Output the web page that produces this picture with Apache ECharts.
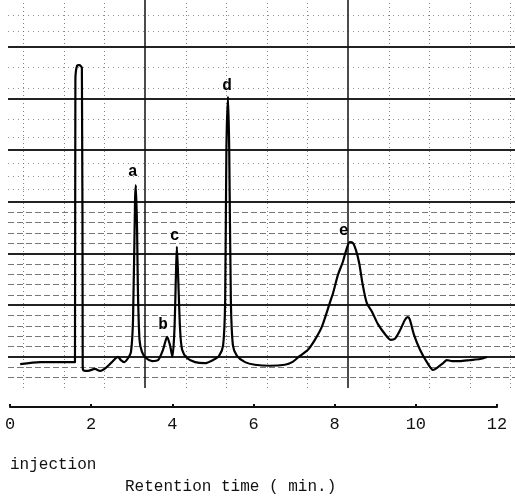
<!DOCTYPE html>
<html><head><meta charset="utf-8">
<script src="https://cdn.jsdelivr.net/npm/echarts@6/dist/echarts.min.js"></script>
<style>html,body{margin:0;padding:0;background:#fff}#c{width:515px;height:500px}</style>
</head><body><div id="c"></div>
<script>
// Retention time (min) and detector response (chart-paper divisions)
const traceTime = [0.25,0.74,1.55,1.60,1.61,1.65,1.71,1.77,1.79,1.80,1.92,2.09,2.22,2.36,2.51,2.66,2.73,2.81,2.91,2.98,3.03,3.08,3.10,3.13,3.15,3.19,3.25,3.35,3.50,3.65,3.77,3.87,3.94,4.00,4.05,4.09,4.11,4.14,4.19,4.24,4.36,4.56,4.80,5.00,5.15,5.25,5.30,5.33,5.37,5.40,5.44,5.49,5.59,5.79,6.03,6.40,6.77,6.95,7.14,7.34,7.51,7.68,7.88,7.96,8.08,8.20,8.30,8.37,8.45,8.52,8.60,8.69,8.79,8.92,9.06,9.24,9.38,9.48,9.61,9.73,9.80,9.85,9.95,10.10,10.27,10.42,10.52,10.67,10.76,10.89,11.08,11.33,11.58,11.75];
const traceSignal = [-0.14,-0.10,-0.10,-0.10,5.35,5.63,5.64,5.59,-0.15,-0.25,-0.27,-0.23,-0.27,-0.21,-0.10,0.00,-0.06,-0.10,-0.02,0.10,0.72,3.03,3.32,2.46,1.30,0.33,0.10,-0.02,-0.08,-0.06,0.14,0.39,0.23,0.00,0.52,1.68,2.13,1.59,0.52,0.14,-0.02,-0.10,-0.12,-0.06,0.02,0.23,1.10,4.00,5.03,4.00,1.10,0.23,0.02,-0.10,-0.15,-0.17,-0.15,-0.10,0.02,0.14,0.33,0.58,1.05,1.24,1.59,1.84,2.11,2.22,2.20,2.07,1.82,1.39,1.04,0.87,0.64,0.44,0.33,0.35,0.52,0.72,0.77,0.72,0.43,0.14,-0.10,-0.25,-0.21,-0.12,-0.06,-0.08,-0.08,-0.06,-0.04,0.00];
const peakNames = ['a','b','c','d','e'];
const peakTimes = [3.10,3.87,4.11,5.37,8.37];
const peakHeights = [3.32,0.39,2.13,5.03,2.22];
const xTicks = [0,2,4,6,8,10,12];
const majorY = [0,1,2,3,4,5,6];
const minorY = [-0.4,-0.2,0.2,0.4,0.6,0.8,1.2,1.4,1.6,1.8,2.2,2.4,2.6,2.8];
const dottedY = [3.25,3.5,3.75,4.25,4.6,5.2,5.6,6.3,6.6];
const majorX = [3.33,8.33];
const dottedX = [0.33,1.33,2.33,4.33,5.33,6.33,7.33,9.33,10.33,11.33,12.32];

const FONT = '"Liberation Mono","DejaVu Sans Mono",monospace';
const trace = traceTime.map((t,i)=>[t,traceSignal[i]]);
const peaks = peakTimes.map((t,i)=>({value:[t,peakHeights[i]],name:peakNames[i]}));
const peakOffsets = [[-3,-1],[-4,0],[-2,1],[-1,1],[-6,1]];

function hLines(vals){return vals.map(v=>({yAxis:v}));}
function vLines(vals){return vals.map(v=>({xAxis:v}));}
function ml(data,style){return {silent:true,symbol:'none',label:{show:false},animation:false,lineStyle:style,data:data};}

const chart = echarts.init(document.getElementById('c'),null,{renderer:'canvas'});
chart.setOption({
  animation:false,
  backgroundColor:'#fff',
  grid:[
    {left:8,right:0,top:0,bottom:112},
    {left:10,right:18,top:406,bottom:93}
  ],
  xAxis:[
    {gridIndex:0,type:'value',min:-0.05,max:12.44,show:false},
    {gridIndex:1,type:'value',min:0,max:12,interval:2,
      axisLine:{show:true,onZero:false,lineStyle:{color:'#111',width:2}},
      axisTick:{show:true,inside:true,length:3,lineStyle:{color:'#111',width:2}},
      splitLine:{show:false},
      axisLabel:{show:true,margin:9,color:'#111',fontFamily:FONT,fontSize:17,
        customValues:xTicks,formatter:v=>String(v)}}
  ],
  yAxis:[
    {gridIndex:0,type:'value',min:-0.6,max:6.9,show:false},
    {gridIndex:1,type:'value',min:0,max:1,show:false}
  ],
  series:[
    {type:'line',xAxisIndex:0,yAxisIndex:0,data:[],silent:true,
      markLine:ml(hLines(dottedY),{color:'#777',width:1,type:[1,4],opacity:0.8})},
    {type:'line',xAxisIndex:0,yAxisIndex:0,data:[],silent:true,
      markLine:ml(hLines(minorY),{color:'#555',width:1,type:[6,3],opacity:0.8})},
    {type:'line',xAxisIndex:0,yAxisIndex:0,data:[],silent:true,
      markLine:ml(vLines(dottedX),{color:'#666',width:1,type:[1,3],opacity:0.8})},
    {type:'line',xAxisIndex:0,yAxisIndex:0,data:[],silent:true,
      markLine:ml(hLines(majorY),{color:'#222',width:2,type:'solid'})},
    {type:'line',xAxisIndex:0,yAxisIndex:0,data:[],silent:true,
      markLine:ml(vLines(majorX),{color:'#111',width:1.5,type:'solid'})},
    {type:'line',xAxisIndex:0,yAxisIndex:0,data:trace,showSymbol:false,smooth:0.25,
      lineStyle:{color:'#000',width:2.2},z:5},
    {type:'scatter',xAxisIndex:0,yAxisIndex:0,data:peaks,symbolSize:0,z:6,
      itemStyle:{opacity:1},
      label:{show:true,position:'top',distance:4,formatter:p=>p.name,opacity:1,
        fontFamily:FONT,fontWeight:'bold',fontSize:16,color:'#000'},
      labelLayout:p=>({dx:peakOffsets[p.dataIndex][0],dy:peakOffsets[p.dataIndex][1]})}
  ],
  graphic:[
    {type:'text',left:10,top:457,style:{text:'injection',font:'16px '+FONT,fill:'#111'}},
    {type:'text',left:125,top:479,style:{text:'Retention time ( min.)',font:'16px '+FONT,fill:'#111'}}
  ]
});
</script></body></html>
